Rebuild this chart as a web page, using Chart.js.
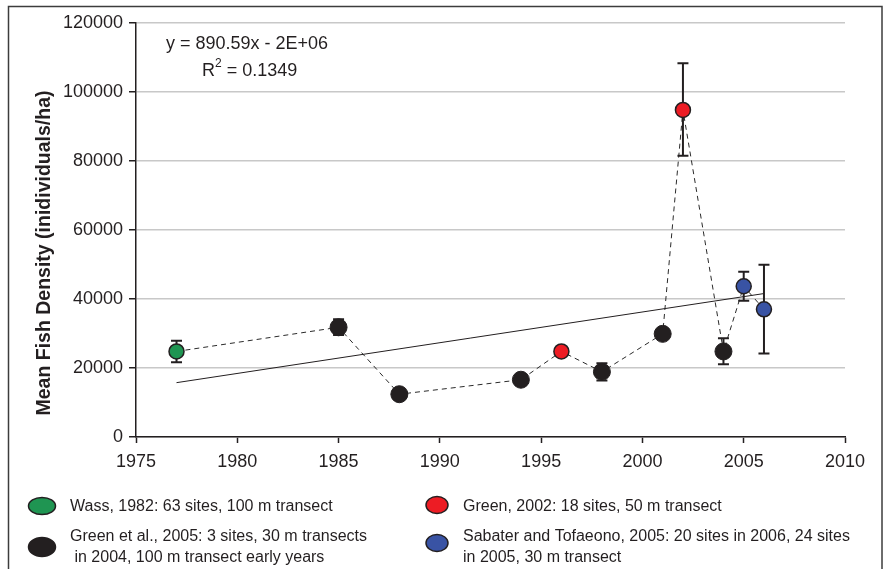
<!DOCTYPE html>
<html>
<head>
<meta charset="utf-8">
<script src="https://cdn.jsdelivr.net/npm/chart.js@4.4.0/dist/chart.umd.min.js"></script>
<style>
    body { margin: 0; background: #fff; }
</style>
</head>
<body>
<canvas id="fishChart" width="888" height="569"></canvas>
<script>
// survey years and mean density (individuals/ha)
const years = [1977, 1985, 1988, 1994, 1996, 1998, 2001, 2002, 2004, 2005, 2006];
const density = [24800, 31800, 12400, 16600, 24800, 18900, 29900, 94800, 24800, 43700, 37000];
const errLow = [21700, 29600, null, null, null, 16400, null, 81500, 21100, 39500, 24200];
const errHigh = [27900, 34100, null, null, null, 21400, null, 108300, 28600, 47900, 49900];
const source = ['wass', 'green05', 'green05', 'green05', 'green02', 'green05', 'green05', 'green02', 'green05', 'sabater', 'sabater'];

// linear trend end points
const trendYears = [1977, 2006];
const trendValues = [15750, 41580];

const xTicks = [1975, 1980, 1985, 1990, 1995, 2000, 2005, 2010];
const yTicks = [0, 20000, 40000, 60000, 80000, 100000, 120000];

const legendLabels = [
    ['Wass, 1982: 63 sites, 100 m transect'],
    ['Green et al., 2005: 3 sites, 30 m transects', ' in 2004, 100 m transect early years'],
    ['Green, 2002: 18 sites, 50 m transect'],
    ['Sabater and Tofaeono, 2005: 20 sites in 2006, 24 sites', 'in 2005, 30 m transect']
];

const ink = '#231f20';
const colors = {
    wass: '#1f9552',
    green05: '#231f20',
    green02: '#ed1c24',
    sabater: '#3953a4'
};
const fontFamily = '"Liberation Sans", Arial, sans-serif';

function pointsFor(src) {
    const pts = [];
    years.forEach((yr, i) => {
        if (source[i] === src) pts.push({ x: yr, y: density[i] });
    });
    return pts;
}

function markerSet(src, radius, border) {
    return {
        label: src,
        data: pointsFor(src),
        showLine: false,
        pointRadius: radius,
        pointBackgroundColor: colors[src],
        pointBorderColor: ink,
        pointBorderWidth: border
    };
}

const errorBars = {
    id: 'errorBars',
    beforeDatasetDraw(chart, args) {
        if (args.index !== 3) return;
        const ctx = chart.ctx, xs = chart.scales.x, ys = chart.scales.y;
        ctx.save();
        ctx.strokeStyle = ink;
        ctx.lineWidth = 2;
        years.forEach((yr, i) => {
            if (errLow[i] == null) return;
            const px = xs.getPixelForValue(yr);
            const top = ys.getPixelForValue(errHigh[i]);
            const bot = ys.getPixelForValue(errLow[i]);
            ctx.beginPath();
            ctx.moveTo(px, top); ctx.lineTo(px, bot);
            ctx.moveTo(px - 5.5, top); ctx.lineTo(px + 5.5, top);
            ctx.moveTo(px - 5.5, bot); ctx.lineTo(px + 5.5, bot);
            ctx.stroke();
        });
        ctx.restore();
    }
};

const decorations = {
    id: 'decorations',
    afterDraw(chart) {
        const ctx = chart.ctx;
        ctx.save();
        // outer frame
        ctx.strokeStyle = '#3c3c3c';
        ctx.lineWidth = 1.5;
        ctx.strokeRect(8.5, 6.5, 873.5, 600);

        ctx.fillStyle = ink;
        ctx.textBaseline = 'middle';
        // trend equation
        ctx.font = '18px ' + fontFamily;
        ctx.fillText('y = 890.59x - 2E+06', 166, 44);
        ctx.fillText('R', 202, 71);
        const rw = ctx.measureText('R').width;
        ctx.font = '12px ' + fontFamily;
        ctx.fillText('2', 202 + rw, 64);
        const sw = ctx.measureText('2').width;
        ctx.font = '18px ' + fontFamily;
        ctx.fillText(' = 0.1349', 202 + rw + sw, 71);

        // y axis title
        ctx.save();
        ctx.translate(45, 253);
        ctx.rotate(-Math.PI / 2);
        ctx.textAlign = 'center';
        ctx.font = 'bold 19.5px ' + fontFamily;
        ctx.fillText('Mean Fish Density (inidividuals/ha)', 0, 0);
        ctx.restore();

        // legend
        const items = [
            { src: 'wass', cx: 42, cy: 506, w: 27, h: 17, tx: 70, ty: 507 },
            { src: 'green05', cx: 42, cy: 547, w: 27, h: 19, tx: 70, ty: 537 },
            { src: 'green02', cx: 437, cy: 505, w: 22, h: 17, tx: 463, ty: 507 },
            { src: 'sabater', cx: 437, cy: 543, w: 22, h: 17, tx: 463, ty: 537 }
        ];
        ctx.font = '16px ' + fontFamily;
        items.forEach((it, i) => {
            ctx.beginPath();
            ctx.ellipse(it.cx, it.cy, it.w / 2, it.h / 2, 0, 0, Math.PI * 2);
            ctx.fillStyle = colors[it.src];
            ctx.fill();
            ctx.lineWidth = 1.5;
            ctx.strokeStyle = ink;
            ctx.stroke();
            ctx.fillStyle = ink;
            legendLabels[i].forEach((line, j) => {
                ctx.fillText(line, it.tx, it.ty + j * 21);
            });
        });
        ctx.restore();
    }
};

const tickFont = { family: fontFamily, size: 18 };

new Chart(document.getElementById('fishChart'), {
    type: 'scatter',
    data: {
        datasets: [
            markerSet('wass', 7.5, 1.5),
            markerSet('green05', 8.5, 1),
            markerSet('green02', 7.5, 1.5),
            markerSet('sabater', 7.5, 1.5),
            {
                label: 'connect',
                data: years.map((yr, i) => ({ x: yr, y: density[i] })),
                showLine: true,
                borderColor: '#2a2a2a',
                borderWidth: 1,
                borderDash: [5, 4],
                pointRadius: 0,
                fill: false
            },
            {
                label: 'trend',
                data: trendYears.map((yr, i) => ({ x: yr, y: trendValues[i] })),
                showLine: true,
                borderColor: ink,
                borderWidth: 1,
                pointRadius: 0,
                fill: false
            }
        ]
    },
    options: {
        responsive: false,
        animation: false,
        devicePixelRatio: 1,
        layout: { padding: { left: 0, right: 43, top: 23, bottom: 92 } },
        plugins: {
            legend: { display: false },
            tooltip: { enabled: false }
        },
        scales: {
            x: {
                type: 'linear',
                min: xTicks[0],
                max: xTicks[xTicks.length - 1],
                afterBuildTicks: s => { s.ticks = xTicks.map(v => ({ value: v })); },
                ticks: { callback: v => String(v), color: ink, font: tickFont, padding: 8, maxRotation: 0 },
                grid: { drawOnChartArea: false, tickLength: 6, tickColor: ink, tickWidth: 1.5 },
                border: { color: ink, width: 1.5 },
                afterFit: s => { s.height = 40; }
            },
            y: {
                min: yTicks[0],
                max: yTicks[yTicks.length - 1],
                afterBuildTicks: s => { s.ticks = yTicks.map(v => ({ value: v })); },
                ticks: { callback: v => String(v), color: ink, font: tickFont, padding: 6 },
                grid: { color: '#c8c8c8', lineWidth: 1.5, tickLength: 7, tickColor: ink, tickWidth: 1.5 },
                border: { color: ink, width: 1.5 },
                afterFit: s => { s.width = 136; }
            }
        }
    },
    plugins: [errorBars, decorations]
});
</script>
</body>
</html>
